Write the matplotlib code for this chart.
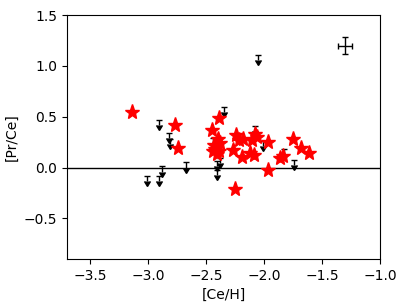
import matplotlib
matplotlib.use("Agg")
import matplotlib.pyplot as plt

# Detections (red stars)
star_ceh = [-3.14, -2.77, -2.74, -2.45, -2.39, -2.40, -2.43, -2.44, -2.41, -2.39,
            -2.38, -2.42, -2.27, -2.24, -2.22, -2.19, -2.18, -2.25, -2.12, -2.09,
            -2.10, -2.08, -2.06, -1.97, -1.97, -1.86, -1.84, -1.75, -1.68, -1.61]
star_prce = [0.55, 0.42, 0.19, 0.37, 0.49, 0.28, 0.22, 0.16, 0.13, 0.16,
             0.24, 0.18, 0.17, 0.32, 0.27, 0.10, 0.28, -0.21, 0.14, 0.12,
             0.27, 0.33, 0.30, 0.25, -0.02, 0.09, 0.11, 0.28, 0.19, 0.14]

# Upper limits (black arrows)
lim_ceh = [-3.01, -2.91, -2.91, -2.88, -2.82, -2.81, -2.67, -2.44, -2.41, -2.41,
           -2.38, -2.35, -2.08, -2.05, -2.01, -1.83, -1.74]
lim_prce = [-0.08, -0.08, 0.47, 0.01, 0.34, 0.28, 0.05, 0.29, 0.06, -0.02,
            0.09, 0.60, 0.41, 1.11, 0.26, 0.18, 0.07]

# Typical error bar
err_x, err_y = [-1.30], [1.20]
err_xerr, err_yerr = [0.06], [0.08]

fig = plt.figure(figsize=(4.07, 3.05), dpi=100)
ax = fig.add_axes([0.1646, 0.1508, 0.7691, 0.80])

ax.axhline(0.0, color='black', lw=1.0, zorder=1)
eb = ax.errorbar(lim_ceh, lim_prce, yerr=0.05, uplims=True, fmt='none',
                 ecolor='black', elinewidth=1.0, capsize=2.4, zorder=2)
for cl in eb[1]:
    cl.set_markerfacecolor('black')
    cl.set_markeredgecolor('black')
ax.plot(star_ceh, star_prce, linestyle='none', marker='*', markersize=11,
        color='red', markeredgecolor='red', zorder=3)
ax.errorbar(err_x, err_y, xerr=err_xerr, yerr=err_yerr, fmt='none',
            ecolor='black', elinewidth=1.0, capsize=2.2)

ax.set_xlim(-3.7, -1.0)
ax.set_ylim(-0.9, 1.5)
ax.set_xticks([-3.5, -3.0, -2.5, -2.0, -1.5, -1.0])
ax.set_yticks([-0.5, 0.0, 0.5, 1.0, 1.5])
ax.set_xlabel('[Ce/H]')
ax.set_ylabel('[Pr/Ce]')

fig.savefig('out.png', dpi=100)
